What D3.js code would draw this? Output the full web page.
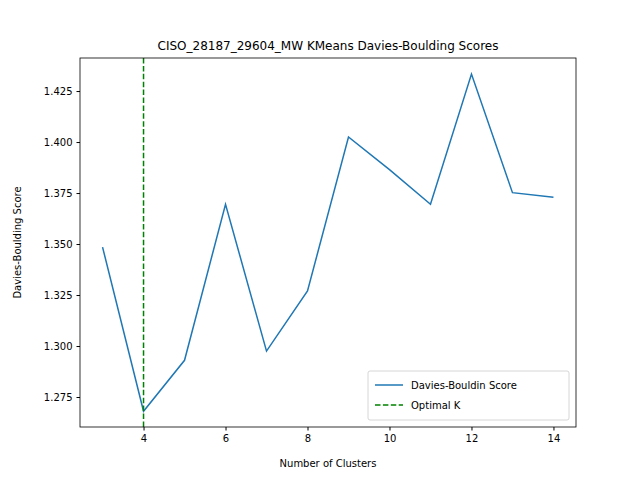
<!DOCTYPE html>
<html><head><meta charset="utf-8">
<script src="https://cdn.jsdelivr.net/npm/d3@7"></script>
<style>body{margin:0;background:#fff}text{font-family:"DejaVu Sans",sans-serif}</style>
</head><body>
<svg id="chart" width="640" height="480"></svg>
<script>
const clusters = [3, 4, 5, 6, 7, 8, 9, 10, 11, 12, 13, 14];
const scores = [1.3485, 1.268, 1.293, 1.3695, 1.2975, 1.327, 1.4025, 1.3865, 1.3695, 1.4333, 1.3752, 1.3729];
const optimalK = 4;
const xTicks = [4, 6, 8, 10, 12, 14];
const yTicks = [1.275, 1.300, 1.325, 1.350, 1.375, 1.400, 1.425];

const svg = d3.select('#chart');
const plotL = 80, plotR = 576, plotT = 58, plotB = 427;

const x = d3.scaleLinear().domain([2.45, 14.55]).range([plotL, plotR]);
const y = d3.scaleLinear().domain([1.2603, 1.4412]).range([plotB, plotT]);

svg.append('g').attr('transform', `translate(0,${plotB})`)
  .call(d3.axisBottom(x).tickValues(xTicks).tickFormat(d3.format('d')).tickSize(3.5).tickPadding(4))
  .call(g => g.select('.domain').remove())
  .selectAll('text').attr('font-size', 10).attr('fill', '#000');
svg.append('g').attr('transform', `translate(${plotL},0)`)
  .call(d3.axisLeft(y).tickValues(yTicks).tickFormat(d3.format('.3f')).tickSize(3.5).tickPadding(4))
  .call(g => g.select('.domain').remove())
  .selectAll('text').attr('font-size', 10).attr('fill', '#000');

svg.append('path').datum(clusters.map((c, i) => [c, scores[i]]))
  .attr('fill', 'none').attr('stroke', '#1f77b4').attr('stroke-width', 1.5)
  .attr('d', d3.line().x(d => x(d[0])).y(d => y(d[1])));

svg.append('line').attr('x1', x(optimalK)).attr('x2', x(optimalK)).attr('y1', plotT).attr('y2', plotB)
  .attr('stroke', 'green').attr('stroke-width', 1.5).attr('stroke-dasharray', '5.5,2.4');

svg.append('rect').attr('x', plotL).attr('y', plotT).attr('width', plotR - plotL).attr('height', plotB - plotT)
  .attr('fill', 'none').attr('stroke', '#000').attr('stroke-width', 0.8);

svg.append('text').attr('x', (plotL + plotR) / 2).attr('y', 50).attr('text-anchor', 'middle')
  .attr('font-size', 12).text('CISO_28187_29604_MW KMeans Davies-Boulding Scores');
svg.append('text').attr('x', (plotL + plotR) / 2).attr('y', 467).attr('text-anchor', 'middle')
  .attr('font-size', 10).text('Number of Clusters');
svg.append('text').attr('transform', `translate(21,${(plotT + plotB) / 2}) rotate(-90)`).attr('text-anchor', 'middle')
  .attr('font-size', 10).text('Davies-Boulding Score');

const lg = svg.append('g').attr('transform', 'translate(368,371)');
lg.append('rect').attr('width', 201).attr('height', 49).attr('rx', 2).attr('fill', '#fff')
  .attr('stroke', '#ccc').attr('stroke-width', 0.8);
const items = [['Davies-Bouldin Score', '#1f77b4', null], ['Optimal K', 'green', '5.5,2.4']];
items.forEach((it, i) => {
  const yy = 14 + i * 20;
  lg.append('line').attr('x1', 7).attr('x2', 35).attr('y1', yy).attr('y2', yy)
    .attr('stroke', it[1]).attr('stroke-width', 1.5).attr('stroke-dasharray', it[2]);
  lg.append('text').attr('x', 43).attr('y', yy + 3.5).attr('font-size', 10).text(it[0]);
});
</script>
</body></html>
